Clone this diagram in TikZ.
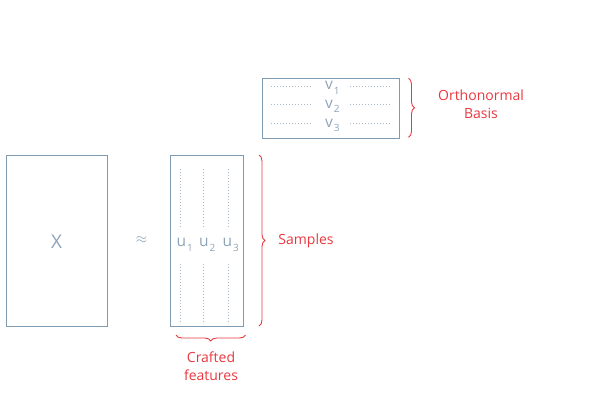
\documentclass[tikz,border=0pt]{standalone}
\usepackage{fontspec}
\setmainfont{Open Sans}
\usetikzlibrary{decorations.pathreplacing}
\definecolor{boxc}{HTML}{7F9BB2}
\definecolor{txtc}{HTML}{8EA3B8}
\definecolor{dotc}{HTML}{A9BACB}
\definecolor{redc}{HTML}{E8383F}
\newcommand{\lowsub}[1]{\kern1pt\raisebox{-4.5pt}{\fontsize{10}{10}\selectfont #1}}
\tikzset{
  mat/.style={draw=boxc, line width=0.9pt, fill=none},
  dots/.style={draw=dotc, line width=0.7pt, dash pattern=on 1.2pt off 1.8pt},
  lbl/.style={text=txtc, font=\fontsize{15.5}{15.5}\selectfont, inner sep=0pt},
  rlbl/.style={text=redc, font=\fontsize{14}{18}\selectfont, align=center, inner sep=0pt},
  brc/.style={draw=redc, line width=0.9pt, decorate, decoration={brace, amplitude=6pt}}
}
\begin{document}
\begin{tikzpicture}[x=1pt,y=-1pt]
\useasboundingbox (0,0) rectangle (615,400);
% X matrix
\node[mat, minimum width=100.5pt, minimum height=171pt, anchor=north west, inner sep=0pt] (Xb) at (6.3,155) {};
\node[lbl, font=\fontsize{19}{19}\selectfont] (X) at (56.7,241.5) {X};
\node[lbl, font=\fontsize{15}{15}\selectfont] (approx) at (141.5,240.5) {$\approx$};
% U matrix
\node[mat, minimum width=73pt, minimum height=171pt, anchor=north west, inner sep=0pt] (Ub) at (170.3,155) {};
\node[lbl, anchor=base west] (u1) at (176.5,246.5) {u\lowsub{1}};
\node[lbl, anchor=base west] (u2) at (199,246.5) {u\lowsub{2}};
\node[lbl, anchor=base west] (u3) at (222.5,246.5) {u\lowsub{3}};
\foreach \x/\n in {180/a,203.3/b,228.3/c}{
  \coordinate (t\n1) at (\x,169);
  \coordinate (t\n2) at (\x,227);
  \coordinate (b\n1) at (\x,264);
  \coordinate (b\n2) at (\x,322);
  \draw[dots] (t\n1) -- (t\n2);
  \draw[dots] (b\n1) -- (b\n2);
}
% V matrix
\node[mat, minimum width=137.7pt, minimum height=59.4pt, anchor=north west, inner sep=0pt] (Vb) at (261.7,78.3) {};
\node[lbl, anchor=base west] (v1) at (325,89.5) {v\lowsub{1}};
\node[lbl, anchor=base west] (v2) at (325,108) {v\lowsub{2}};
\node[lbl, anchor=base west] (v3) at (325,127) {v\lowsub{3}};
\foreach \y/\n in {86/a,104.3/b,123.3/c}{
  \coordinate (l\n1) at (271,\y);
  \coordinate (l\n2) at (313,\y);
  \coordinate (r\n1) at (350,\y);
  \coordinate (r\n2) at (392,\y);
  \draw[dots] (l\n1) -- (l\n2);
  \draw[dots] (r\n1) -- (r\n2);
}
% braces
\coordinate (bs1) at (259,155);
\coordinate (bs2) at (259,326);
\draw[brc] (bs1) -- (bs2);
\node[rlbl] (samples) at (306,241) {Samples};
\coordinate (bo1) at (408.5,78.3);
\coordinate (bo2) at (408.5,137.3);
\draw[brc] (bo1) -- (bo2);
\node[rlbl] (ortho) at (481,104.5) {Orthonormal\\Basis};
\coordinate (bc1) at (245.5,335);
\coordinate (bc2) at (176,335);
\draw[brc] (bc1) -- (bc2);
\node[rlbl] (crafted) at (211,366) {Crafted\\features};
\end{tikzpicture}
\end{document}
